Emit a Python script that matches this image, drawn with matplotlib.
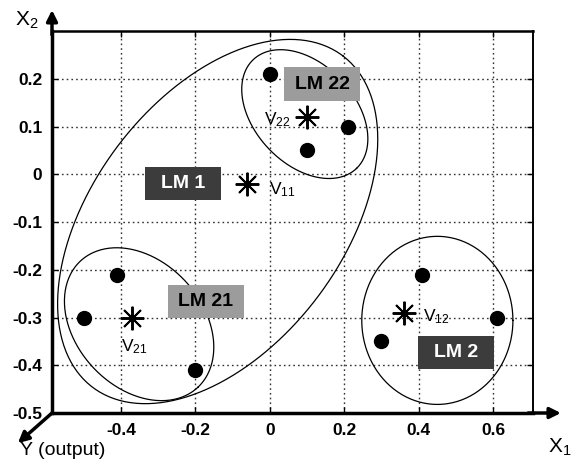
import matplotlib
matplotlib.use('Agg')
import matplotlib.pyplot as plt
import numpy as np
from matplotlib.patches import Rectangle

plt.rcParams['font.family'] = ['Liberation Sans', 'DejaVu Sans']
plt.rcParams['mathtext.fontset'] = 'custom'
plt.rcParams['mathtext.rm'] = 'Liberation Sans'
plt.rcParams['axes.unicode_minus'] = False

# Data points (filled dots)
PTS_X = [0.00, 0.10, 0.21, -0.41, -0.50, -0.20, 0.41, 0.61, 0.30]
PTS_Y = [0.21, 0.05, 0.10, -0.21, -0.30, -0.41, -0.21, -0.30, -0.35]

# Cluster centres (asterisks)
CENTRE_NAMES = ['22', '11', '21', '12']
CENTRE_X = [0.10, -0.06, -0.37, 0.36]
CENTRE_Y = [0.12, -0.02, -0.30, -0.29]

# Local model ellipses: centre and two conjugate semi-axis vectors
ELL_CX = [-0.140, 0.094, -0.351, 0.450]
ELL_CY = [-0.099, 0.126, -0.314, -0.306]
ELL_U = [(0.337, 0.3465), (0.139, -0.1137), (0.158, -0.132), (0.203, 0.0)]
ELL_V = [(0.267, -0.1595), (0.0968, 0.0726), (0.1236, 0.0906), (0.0, 0.176)]

# Local model labels
LM_NAMES = ['LM 1', 'LM 22', 'LM 21', 'LM 2']
LM_X = [-0.234, 0.141, -0.172, 0.501]
LM_Y = [-0.020, 0.189, -0.267, -0.373]
LM_DARK = [True, False, False, True]

XTICKS = [-0.4, -0.2, 0, 0.2, 0.4, 0.6]
XLABELS = ['-0.4', '-0.2', '0', '0.2', '0.4', '0.6']
YTICKS = [-0.5, -0.4, -0.3, -0.2, -0.1, 0, 0.1, 0.2]
YLABELS = ['-0.5', '-0.4', '-0.3', '-0.2', '-0.1', '0', '0.1', '0.2']

# label offsets of the V texts, in pixels, from their asterisk
V_OFFSETS = [(-16, -3, 'right'), (22, -6, 'left'), (2, -29, 'center'), (19, -4, 'left')]

fig = plt.figure(figsize=(5.79, 4.75), dpi=100)
ax = fig.add_axes([0.0898, 0.1305, 0.8308, 0.8042])
ax.set_xlim(-0.585, 0.707)
ax.set_ylim(-0.5, 0.3)

ax.set_xticks(XTICKS)
ax.set_xticklabels(XLABELS)
ax.set_yticks(YTICKS)
ax.set_yticklabels(YLABELS)
ax.tick_params(direction='in', length=4, width=1, top=True, right=True,
               labelsize=12.5, pad=7)
for lab in ax.get_xticklabels() + ax.get_yticklabels():
    lab.set_fontweight('bold')
ax.set_axisbelow(True)
ax.grid(True, which='major', color='0.2', linestyle=(0, (1.2, 2.2)), linewidth=1.0)

for side, lw in (('left', 2.5), ('bottom', 2.5), ('top', 1.8), ('right', 1.4)):
    ax.spines[side].set_linewidth(lw)

# ellipses
t = np.linspace(0, 2 * np.pi, 300)
for cx, cy, u, v in zip(ELL_CX, ELL_CY, ELL_U, ELL_V):
    ex = cx + u[0] * np.cos(t) + v[0] * np.sin(t)
    ey = cy + u[1] * np.cos(t) + v[1] * np.sin(t)
    ax.plot(ex, ey, color='k', lw=0.9, zorder=3)

ax.plot(PTS_X, PTS_Y, 'o', color='k', markersize=10, zorder=5)
ax.plot(CENTRE_X, CENTRE_Y, linestyle='none', marker=(8, 2, 0), color='k',
        markersize=17, markeredgewidth=1.4, zorder=5)

for name, x, y, (dx, dy, ha) in zip(CENTRE_NAMES, CENTRE_X, CENTRE_Y, V_OFFSETS):
    ax.annotate(r'$\mathregular{V_{%s}}$' % name, (x, y), xytext=(dx, dy),
                textcoords='offset pixels', ha=ha, va='center', fontsize=12.5,
                zorder=6)

# local model boxes (fixed size, about 76 x 33 px)
bw = 76 / 372
bh = 33 / 475
for name, x, y, dark in zip(LM_NAMES, LM_X, LM_Y, LM_DARK):
    ax.add_patch(Rectangle((x - bw / 2, y - bh / 2), bw, bh,
                           facecolor='#3c3c3c' if dark else '#9c9c9c',
                           edgecolor='none', zorder=6))
    ax.text(x, y, name, ha='center', va='center', fontsize=14,
            fontweight='bold', color='white' if dark else 'black', zorder=7)

# axis arrows
arrow = dict(arrowstyle='-|>', lw=2.5, color='k', mutation_scale=16,
             shrinkA=0, shrinkB=0)
ax.annotate('', xy=(0, 1.055), xytext=(0, 0.99), xycoords='axes fraction',
            arrowprops=arrow, annotation_clip=False)
ax.annotate('', xy=(1.058, 0), xytext=(0.99, 0), xycoords='axes fraction',
            arrowprops=arrow, annotation_clip=False)
ax.annotate('', xy=(-0.071, -0.079), xytext=(0, 0), xycoords='axes fraction',
            arrowprops=arrow, annotation_clip=False)

ax.text(-0.052, 1.029, r'$\mathregular{X_2}$', transform=ax.transAxes,
        ha='center', va='center', fontsize=15)
ax.text(1.056, -0.089, r'$\mathregular{X_1}$', transform=ax.transAxes,
        ha='center', va='center', fontsize=15)
ax.text(-0.066, -0.098, 'Y (output)', transform=ax.transAxes,
        ha='left', va='center', fontsize=14)

fig.savefig('out.png', dpi=100)
